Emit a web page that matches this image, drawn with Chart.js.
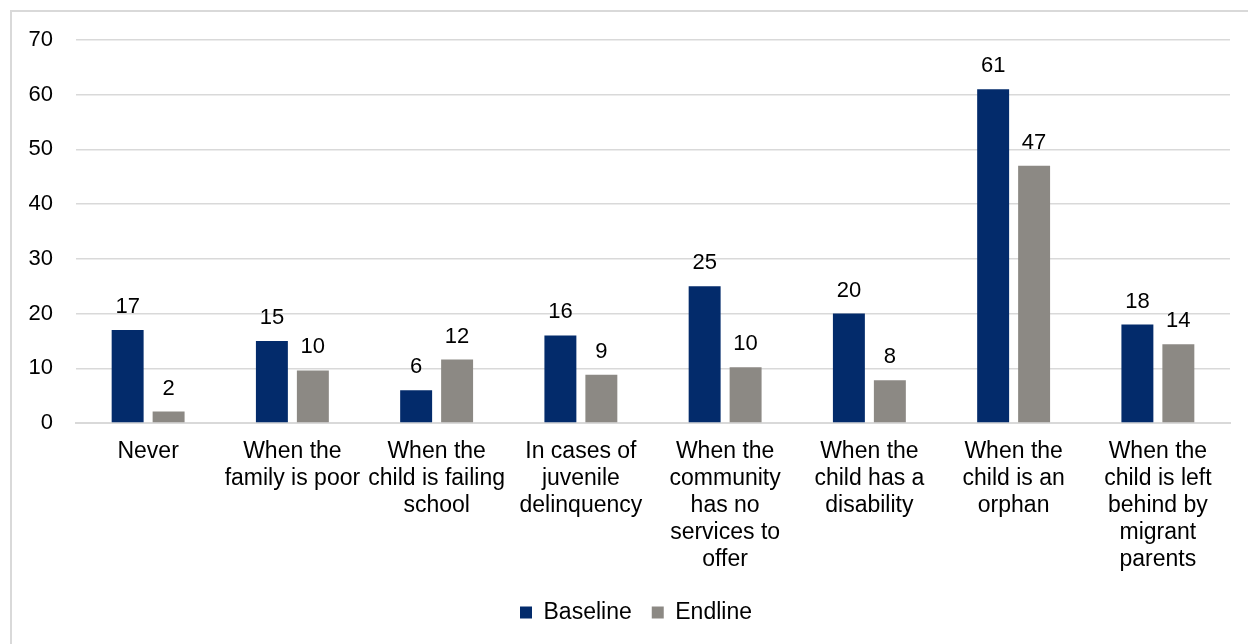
<!DOCTYPE html>
<html>
<head>
<meta charset="utf-8">
<script src="https://cdn.jsdelivr.net/npm/chart.js@4/dist/chart.umd.min.js"></script>
<style>
  html, body { margin: 0; padding: 0; background: #fff; overflow: hidden; }
  #frame { position: absolute; left: 10px; top: 10px; width: 1300px; height: 700px; border: 2px solid #d9d9d9; box-sizing: border-box; }
  #wrap { position: absolute; left: 0; top: 0; width: 1248px; height: 644px; }
</style>
</head>
<body>
<div id="frame"></div>
<div id="wrap"><canvas id="chart"></canvas></div>
<script>
const categories = [
    'Never',
    ['When the', 'family is poor'],
    ['When the', 'child is failing', 'school'],
    ['In cases of', 'juvenile', 'delinquency'],
    ['When the', 'community', 'has no', 'services to', 'offer'],
    ['When the', 'child has a', 'disability'],
    ['When the', 'child is an', 'orphan'],
    ['When the', 'child is left', 'behind by', 'migrant', 'parents']
];
const baseline = [17, 15, 6, 16, 25, 20, 61, 18];
const endline = [2.1, 9.6, 11.6, 8.8, 10.2, 7.8, 47, 14.4];
const yTicks = [0, 10, 20, 30, 40, 50, 60, 70];

const FONT = 'Liberation Sans, Arial, sans-serif';

// draws the rounded value above each bar
const valueLabels = {
    id: 'valueLabels',
    afterDatasetsDraw: function (chart) {
        const ctx = chart.ctx;
        ctx.save();
        ctx.font = '22px ' + FONT;
        ctx.fillStyle = '#000';
        ctx.textAlign = 'center';
        ctx.textBaseline = 'alphabetic';
        chart.data.datasets.forEach(function (ds, i) {
            chart.getDatasetMeta(i).data.forEach(function (bar, j) {
                ctx.fillText(Math.round(ds.data[j]), bar.x, bar.y - 17);
            });
        });
        ctx.restore();
    }
};

// nudge the legend a bit right, like the original
const legendShift = {
    id: 'legendShift',
    afterLayout: function (chart) {
        if (chart.legend) {
            chart.legend.left += 16;
            chart.legend.right += 16;
        }
    }
};

new Chart(document.getElementById('chart'), {
    type: 'bar',
    data: {
        labels: categories,
        datasets: [{
            label: 'Baseline',
            data: baseline,
            backgroundColor: '#032b6b',
            categoryPercentage: 0.568,
            barPercentage: 0.78
        }, {
            label: 'Endline',
            data: endline,
            backgroundColor: '#8c8984',
            categoryPercentage: 0.568,
            barPercentage: 0.78
        }]
    },
    options: {
        responsive: true,
        maintainAspectRatio: false,
        animation: false,
        layout: { padding: { left: 10, right: 18, top: 40, bottom: 10 } },
        plugins: {
            legend: {
                position: 'bottom',
                labels: {
                    boxWidth: 12,
                    boxHeight: 12,
                    padding: 20,
                    color: '#000',
                    font: { family: FONT, size: 23 }
                }
            },
            tooltip: { enabled: false }
        },
        scales: {
            x: {
                grid: { display: false, drawTicks: false },
                border: { display: true, color: '#d9d9d9', width: 2 },
                ticks: {
                    color: '#000',
                    padding: 15,
                    maxRotation: 0,
                    autoSkip: false,
                    font: { family: FONT, size: 23, lineHeight: 1.174 }
                },
                afterFit: function (scale) { scale.height = 158; }
            },
            y: {
                min: 0,
                max: 70,
                afterBuildTicks: function (scale) {
                    scale.ticks = yTicks.map(function (v) { return { value: v }; });
                },
                grid: { color: '#d9d9d9', lineWidth: 1.5, drawTicks: false },
                border: { display: false },
                ticks: {
                    color: '#000',
                    padding: 23,
                    font: { family: FONT, size: 22 }
                },
                afterFit: function (scale) { scale.width = 66; }
            }
        }
    },
    plugins: [valueLabels, legendShift]
});
</script>
</body>
</html>
